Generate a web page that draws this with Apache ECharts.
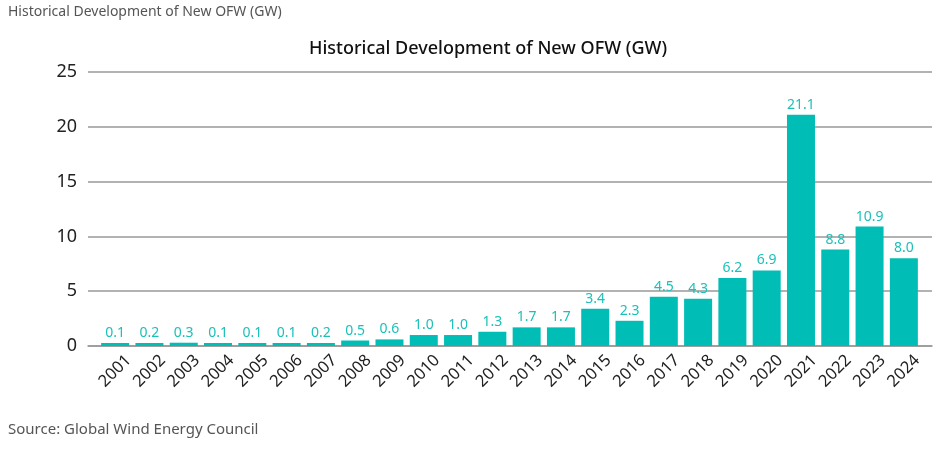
<!DOCTYPE html>
<html><head><meta charset="utf-8">
<script src="https://cdn.jsdelivr.net/npm/echarts@6/dist/echarts.min.js"></script>
<style>html,body{margin:0;padding:0;background:#fff}#c{width:940px;height:449px}</style>
</head><body><div id="c"></div>
<script>
const years = ["2001","2002","2003","2004","2005","2006","2007","2008","2009","2010","2011","2012","2013","2014","2015","2016","2017","2018","2019","2020","2021","2022","2023","2024"];
const newOFW = [0.1,0.2,0.3,0.1,0.1,0.1,0.2,0.5,0.6,1.0,1.0,1.3,1.7,1.7,3.4,2.3,4.5,4.3,6.2,6.9,21.1,8.8,10.9,8.0];
const yTicks = [0,5,10,15,20,25];
const FONT = "'Noto Sans', sans-serif";
const yMin = yTicks[0], yMax = yTicks[yTicks.length-1];
const chart = echarts.init(document.getElementById('c'), null, {renderer:'canvas'});
chart.setOption({
  animation:false,
  title:[
    {text:'Historical Development of New OFW (GW)', left:8, top:5, padding:0, textStyle:{fontFamily:FONT,fontSize:14,fontWeight:'normal',color:'#555'}},
    {text:'Historical Development of New OFW (GW)', left:488, textAlign:'center', top:40, padding:0, textStyle:{fontFamily:FONT,fontSize:18,fontWeight:500,color:'#111'}},
    {text:'Source: Global Wind Energy Council', left:8, top:422, padding:0, textStyle:{fontFamily:FONT,fontSize:15,fontWeight:'normal',color:'#555'}}
  ],
  grid:[
    {left:88, right:8, top:72, bottom:103},
    {left:98, right:19, top:72, bottom:103}
  ],
  xAxis:[
    {gridIndex:0, type:'value', min:0, max:1, show:true, axisLabel:{show:false}, axisTick:{show:false}, splitLine:{show:false},
      axisLine:{show:true, lineStyle:{color:'#999',width:1.5}}},
    {gridIndex:1, type:'category', data:years, axisTick:{show:false}, axisLine:{show:false},
      axisLabel:{rotate:45, interval:0, align:'center', verticalAlign:'middle', fontFamily:FONT, fontSize:16.5, color:'#222', margin:25}}
  ],
  yAxis:[
    {gridIndex:0, type:'value', min:yMin, max:yMax, interval:5,
      axisLine:{show:false}, axisTick:{show:false},
      splitLine:{lineStyle:{color:'#999',width:1.5}},
      axisLabel:{fontFamily:FONT, fontSize:18, color:'#222', margin:11}},
    {gridIndex:1, type:'value', min:yMin, max:yMax, interval:5, show:false, splitLine:{show:false}}
  ],
  series:[{type:'bar', xAxisIndex:1, yAxisIndex:1, data:newOFW, barWidth:28, barMinHeight:3,
    itemStyle:{color:'#00BDB6'},
    label:{show:true, position:'top', distance:3, formatter:p=>p.value.toFixed(1), fontFamily:FONT, fontSize:14, color:'#1CC0B9'}}]
});
</script></body></html>
